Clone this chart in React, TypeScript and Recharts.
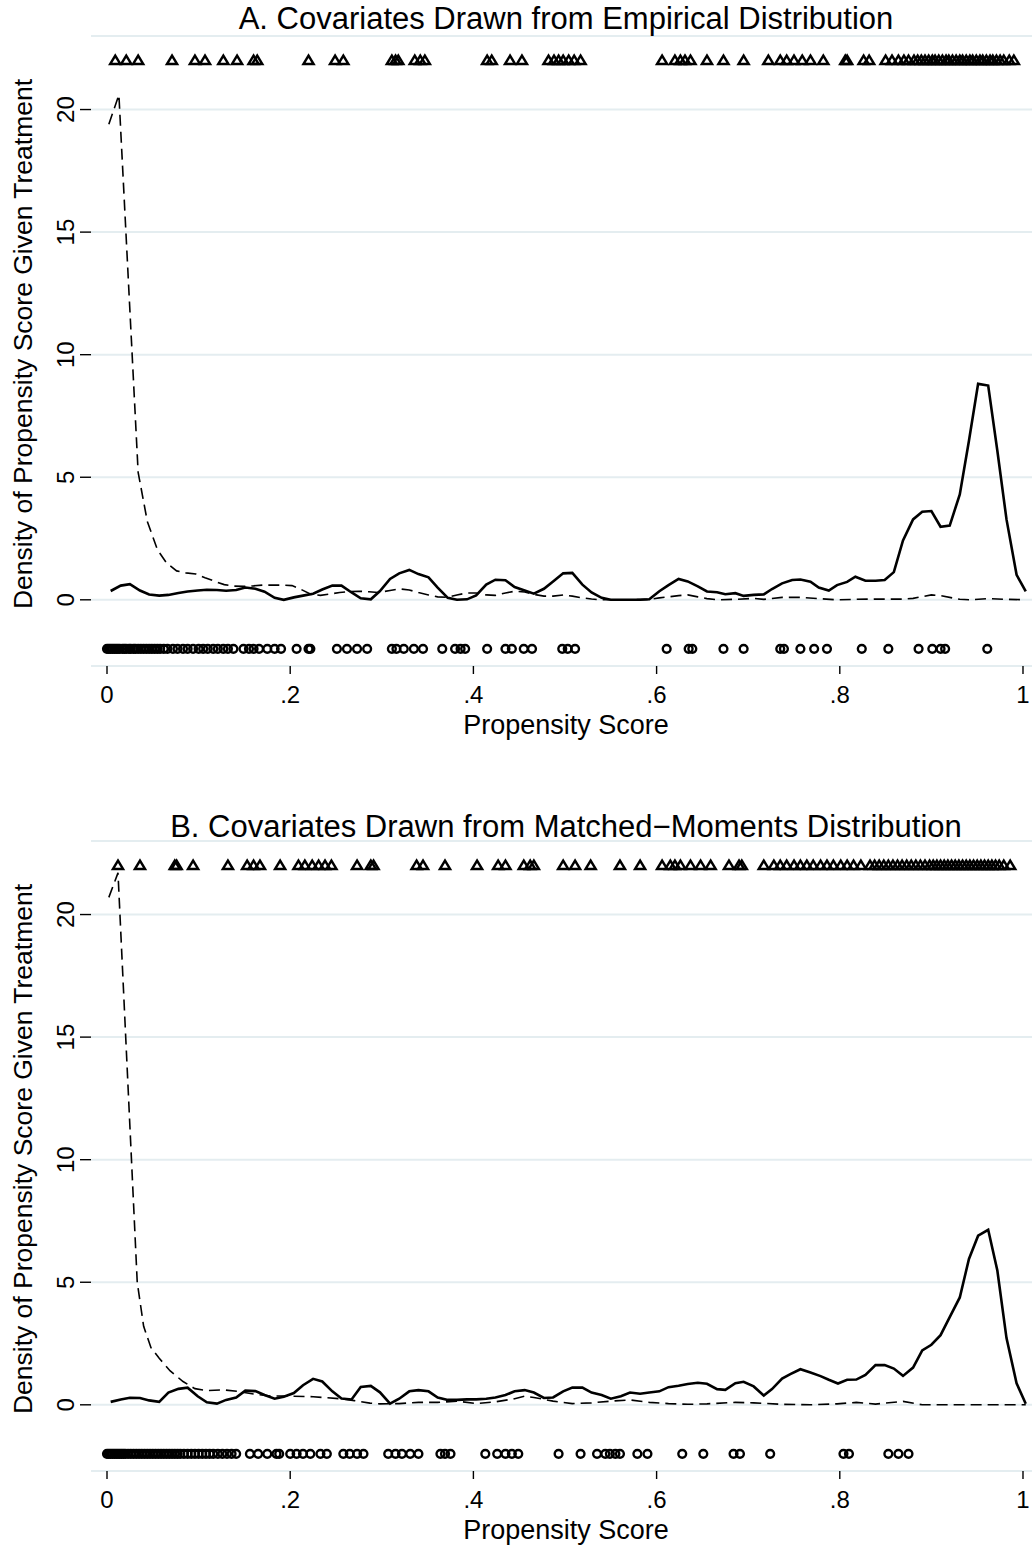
import React from 'react';
import { ComposedChart, Line, Scatter, XAxis, YAxis, CartesianGrid } from 'recharts';

const FONT = '"Liberation Sans", Arial, Helvetica, sans-serif';

const xTicks = [0, 0.2, 0.4, 0.6, 0.8, 1];
const yTicks = [0, 5, 10, 15, 20];
const RUG_TOP = 22;
const RUG_BOTTOM = -2;

// Panel A: kernel densities (x, density)
const treatedA: [number, number][] = [
  [0.004, 0.36], [0.015, 0.58], [0.025, 0.64], [0.036, 0.38], [0.046, 0.22], [0.057, 0.17],
  [0.067, 0.2], [0.078, 0.28], [0.088, 0.34], [0.099, 0.38], [0.109, 0.41], [0.12, 0.4],
  [0.13, 0.37], [0.141, 0.4], [0.151, 0.5], [0.162, 0.45], [0.172, 0.33], [0.183, 0.08],
  [0.193, 0.0], [0.204, 0.1], [0.214, 0.17], [0.225, 0.25], [0.235, 0.42], [0.246, 0.58],
  [0.256, 0.58], [0.267, 0.3], [0.277, 0.06], [0.288, 0.02], [0.298, 0.36], [0.309, 0.85],
  [0.319, 1.08], [0.33, 1.22], [0.34, 1.05], [0.351, 0.92], [0.361, 0.5], [0.372, 0.08],
  [0.382, 0.0], [0.393, 0.02], [0.403, 0.18], [0.414, 0.62], [0.424, 0.82], [0.435, 0.8],
  [0.445, 0.52], [0.456, 0.38], [0.466, 0.25], [0.477, 0.45], [0.487, 0.75], [0.498, 1.08],
  [0.508, 1.1], [0.519, 0.62], [0.529, 0.3], [0.54, 0.08], [0.55, 0.0], [0.561, 0.0],
  [0.571, 0.0], [0.582, 0.0], [0.592, 0.02], [0.603, 0.35], [0.613, 0.6], [0.624, 0.85],
  [0.634, 0.75], [0.645, 0.55], [0.655, 0.34], [0.666, 0.31], [0.675, 0.23], [0.686, 0.27],
  [0.695, 0.16], [0.706, 0.2], [0.717, 0.22], [0.726, 0.44], [0.737, 0.67], [0.748, 0.81],
  [0.757, 0.83], [0.768, 0.74], [0.777, 0.5], [0.788, 0.38], [0.797, 0.6], [0.808, 0.73],
  [0.817, 0.94], [0.828, 0.78], [0.839, 0.78], [0.849, 0.81], [0.859, 1.13], [0.869, 2.42],
  [0.88, 3.28], [0.89, 3.59], [0.9, 3.62], [0.91, 2.98], [0.92, 3.03], [0.931, 4.3],
  [0.941, 6.49], [0.951, 8.81], [0.962, 8.74], [0.972, 6.08], [0.982, 3.28], [0.993, 1.02],
  [1.003, 0.34],
];

const controlA: [number, number][] = [
  [0.002, 19.4], [0.013, 20.6], [0.034, 5.2], [0.044, 3.2], [0.055, 2.05], [0.065, 1.5],
  [0.076, 1.18], [0.086, 1.1], [0.097, 1.05], [0.107, 0.9], [0.118, 0.75], [0.128, 0.62],
  [0.139, 0.56], [0.149, 0.55], [0.16, 0.57], [0.17, 0.6], [0.181, 0.6], [0.191, 0.6],
  [0.202, 0.58], [0.212, 0.42], [0.223, 0.22], [0.233, 0.18], [0.244, 0.24], [0.254, 0.3],
  [0.265, 0.33], [0.275, 0.35], [0.286, 0.33], [0.296, 0.3], [0.309, 0.38], [0.319, 0.45],
  [0.33, 0.4], [0.34, 0.3], [0.351, 0.2], [0.361, 0.12], [0.372, 0.1], [0.382, 0.2],
  [0.393, 0.28], [0.403, 0.28], [0.414, 0.2], [0.424, 0.18], [0.435, 0.28], [0.445, 0.35],
  [0.456, 0.32], [0.466, 0.22], [0.477, 0.15], [0.487, 0.15], [0.498, 0.2], [0.508, 0.15],
  [0.519, 0.08], [0.529, 0.03], [0.54, 0.0], [0.55, 0.0], [0.571, 0.0], [0.592, 0.02],
  [0.603, 0.08], [0.613, 0.12], [0.624, 0.17], [0.634, 0.2], [0.645, 0.12], [0.655, 0.05],
  [0.666, 0.0], [0.686, 0.02], [0.706, 0.06], [0.717, 0.02], [0.737, 0.1], [0.757, 0.1],
  [0.777, 0.05], [0.797, 0.0], [0.817, 0.02], [0.839, 0.03], [0.869, 0.03], [0.88, 0.06],
  [0.9, 0.2], [0.91, 0.17], [0.931, 0.02], [0.941, 0.0], [0.962, 0.05], [0.982, 0.02],
  [1.003, 0.0],
];

const treatedRugA = [
  0.009, 0.021, 0.034, 0.071, 0.096, 0.107, 0.127, 0.142, 0.16, 0.164, 0.22, 0.249, 0.258,
  0.311, 0.315, 0.318, 0.336, 0.342, 0.347, 0.415, 0.42, 0.44, 0.453, 0.482, 0.488, 0.493,
  0.498, 0.504, 0.51, 0.517, 0.606, 0.62, 0.626, 0.631, 0.637, 0.655, 0.673, 0.695, 0.722,
  0.735, 0.742, 0.75, 0.759, 0.768, 0.782, 0.806, 0.808, 0.826, 0.832, 0.85, 0.857, 0.864,
  0.87, 0.875, 0.881, 0.885, 0.889, 0.893, 0.897, 0.901, 0.904, 0.908, 0.912, 0.916, 0.919,
  0.923, 0.927, 0.931, 0.934, 0.938, 0.942, 0.945, 0.949, 0.953, 0.956, 0.96, 0.964, 0.967,
  0.971, 0.975, 0.979, 0.985, 0.99,
];

const controlRugA = [
  0.0, 0.002, 0.004, 0.006, 0.008, 0.01, 0.012, 0.014, 0.017, 0.019, 0.021, 0.024, 0.026,
  0.029, 0.031, 0.034, 0.037, 0.04, 0.043, 0.046, 0.049, 0.052, 0.055, 0.058, 0.062, 0.066,
  0.072, 0.077, 0.083, 0.088, 0.094, 0.1, 0.105, 0.11, 0.116, 0.121, 0.127, 0.132, 0.138,
  0.149, 0.155, 0.16, 0.166, 0.175, 0.183, 0.19, 0.207, 0.22, 0.222, 0.251, 0.262, 0.273,
  0.284, 0.311, 0.316, 0.324, 0.335, 0.345, 0.366, 0.38, 0.386, 0.391, 0.415, 0.435, 0.442,
  0.455, 0.464, 0.497, 0.503, 0.511, 0.611, 0.635, 0.639, 0.673, 0.695, 0.735, 0.739, 0.757,
  0.772, 0.786, 0.824, 0.853, 0.886, 0.901, 0.91, 0.915, 0.961,
];

// Panel B
const treatedB: [number, number][] = [
  [0.004, 0.12], [0.015, 0.22], [0.025, 0.29], [0.036, 0.28], [0.046, 0.18], [0.057, 0.12],
  [0.067, 0.5], [0.078, 0.65], [0.088, 0.7], [0.099, 0.35], [0.109, 0.1], [0.12, 0.05],
  [0.13, 0.2], [0.141, 0.3], [0.151, 0.58], [0.162, 0.56], [0.172, 0.4], [0.183, 0.25],
  [0.193, 0.33], [0.204, 0.48], [0.214, 0.8], [0.225, 1.06], [0.235, 0.95], [0.246, 0.55],
  [0.256, 0.26], [0.267, 0.22], [0.277, 0.73], [0.288, 0.77], [0.298, 0.51], [0.309, 0.05],
  [0.319, 0.25], [0.33, 0.55], [0.34, 0.6], [0.351, 0.55], [0.361, 0.3], [0.372, 0.2],
  [0.382, 0.2], [0.393, 0.22], [0.403, 0.22], [0.414, 0.25], [0.424, 0.3], [0.435, 0.4],
  [0.445, 0.55], [0.456, 0.6], [0.466, 0.5], [0.477, 0.28], [0.487, 0.3], [0.498, 0.55],
  [0.508, 0.7], [0.519, 0.7], [0.529, 0.5], [0.54, 0.4], [0.55, 0.25], [0.561, 0.35],
  [0.571, 0.5], [0.582, 0.45], [0.592, 0.5], [0.603, 0.55], [0.613, 0.72], [0.624, 0.78],
  [0.634, 0.85], [0.645, 0.9], [0.655, 0.86], [0.666, 0.64], [0.675, 0.61], [0.686, 0.88],
  [0.695, 0.94], [0.706, 0.75], [0.717, 0.38], [0.726, 0.64], [0.737, 1.07], [0.746, 1.25],
  [0.757, 1.45], [0.768, 1.32], [0.779, 1.17], [0.788, 1.02], [0.798, 0.87], [0.808, 1.02],
  [0.818, 1.03], [0.828, 1.22], [0.839, 1.62], [0.849, 1.62], [0.859, 1.48], [0.869, 1.18],
  [0.88, 1.52], [0.89, 2.22], [0.9, 2.45], [0.91, 2.84], [0.92, 3.58], [0.931, 4.38],
  [0.941, 5.95], [0.951, 6.9], [0.962, 7.14], [0.972, 5.48], [0.982, 2.72], [0.993, 0.88],
  [1.003, 0.04],
];

const controlB: [number, number][] = [
  [0.002, 20.7], [0.012, 21.7], [0.033, 5.0], [0.04, 3.2], [0.048, 2.33], [0.057, 1.9],
  [0.069, 1.38], [0.083, 0.95], [0.096, 0.66], [0.109, 0.58], [0.127, 0.61], [0.142, 0.55],
  [0.16, 0.44], [0.178, 0.36], [0.196, 0.36], [0.225, 0.33], [0.254, 0.25], [0.27, 0.17],
  [0.287, 0.07], [0.298, 0.04], [0.319, 0.05], [0.34, 0.1], [0.361, 0.1], [0.382, 0.15],
  [0.403, 0.05], [0.424, 0.12], [0.445, 0.25], [0.456, 0.35], [0.466, 0.3], [0.487, 0.15],
  [0.508, 0.05], [0.529, 0.08], [0.55, 0.15], [0.571, 0.2], [0.592, 0.1], [0.613, 0.05],
  [0.634, 0.02], [0.655, 0.04], [0.686, 0.1], [0.706, 0.08], [0.737, 0.02], [0.768, 0.0],
  [0.797, 0.04], [0.818, 0.1], [0.839, 0.03], [0.869, 0.14], [0.89, 0.0], [0.931, 0.0],
  [1.003, 0.0],
];

const treatedRugB = [
  0.012, 0.036, 0.074, 0.076, 0.094, 0.132, 0.153, 0.16, 0.167, 0.189, 0.209, 0.216, 0.224,
  0.231, 0.238, 0.245, 0.273, 0.288, 0.291, 0.338, 0.345, 0.369, 0.404, 0.427, 0.435, 0.455,
  0.462, 0.466, 0.498, 0.511, 0.528, 0.56, 0.582, 0.606, 0.615, 0.62, 0.626, 0.637, 0.648,
  0.659, 0.679, 0.69, 0.693, 0.717, 0.728, 0.735, 0.742, 0.75, 0.757, 0.764, 0.771, 0.779,
  0.786, 0.793, 0.801, 0.808, 0.815, 0.823, 0.833, 0.838, 0.843, 0.848, 0.853, 0.858, 0.863,
  0.868, 0.873, 0.878, 0.883, 0.888, 0.893, 0.898, 0.902, 0.906, 0.91, 0.914, 0.918, 0.922,
  0.926, 0.93, 0.934, 0.938, 0.942, 0.946, 0.95, 0.954, 0.958, 0.962, 0.966, 0.97, 0.974,
  0.979, 0.986,
];

const controlRugB = [
  0.0, 0.002, 0.004, 0.006, 0.008, 0.01, 0.012, 0.014, 0.016, 0.018, 0.02, 0.023, 0.026,
  0.029, 0.032, 0.035, 0.038, 0.041, 0.044, 0.047, 0.05, 0.053, 0.056, 0.059, 0.062, 0.065,
  0.068, 0.071, 0.074, 0.077, 0.08, 0.084, 0.088, 0.092, 0.096, 0.1, 0.104, 0.108, 0.112,
  0.116, 0.121, 0.126, 0.131, 0.136, 0.141, 0.156, 0.165, 0.175, 0.185, 0.188, 0.2, 0.207,
  0.214, 0.222, 0.233, 0.24, 0.258, 0.265, 0.273, 0.28, 0.307, 0.315, 0.322, 0.331, 0.34,
  0.364, 0.369, 0.375, 0.413, 0.426, 0.435, 0.442, 0.449, 0.493, 0.517, 0.535, 0.544, 0.549,
  0.555, 0.56, 0.579, 0.59, 0.628, 0.651, 0.684, 0.691, 0.724, 0.804, 0.81, 0.853, 0.864,
  0.875,
];

const W = 1032;
const H = 742;

const fmtX = (v: number) => (v === 0 ? '0' : v === 1 ? '1' : String(v).replace(/^0/, ''));

const XTick = (props: any) => {
  const { x, y, payload } = props;
  return (
    <g>
      <line x1={x} x2={x} y1={y} y2={y + 8} stroke="#000" strokeWidth={1.4} />
      <text x={x} y={y + 37} textAnchor="middle" fontSize={24} fontFamily={FONT} fill="#000">
        {fmtX(payload.value)}
      </text>
    </g>
  );
};

const YTick = (props: any) => {
  const { x, y, payload } = props;
  return (
    <g>
      <line x1={x - 11} x2={x} y1={y} y2={y} stroke="#000" strokeWidth={1.4} />
      <text
        x={x - 17}
        y={y}
        transform={`rotate(-90, ${x - 17}, ${y})`}
        textAnchor="middle"
        fontSize={24}
        fontFamily={FONT}
        fill="#000"
      >
        {payload.value}
      </text>
    </g>
  );
};

const Triangle = (props: any) => {
  const { cx, cy } = props;
  if (cx == null || cy == null) return <g />;
  const d = `M${cx},${cy - 4.8} L${cx + 5},${cy + 3.4} L${cx - 5},${cy + 3.4} Z`;
  return <path d={d} fill="none" stroke="#000" strokeWidth={2.5} strokeLinejoin="miter" />;
};

const Ring = (props: any) => {
  const { cx, cy } = props;
  if (cx == null || cy == null) return <g />;
  return <circle cx={cx} cy={cy} r={3.9} fill="none" stroke="#000" strokeWidth={2.4} />;
};

interface PanelProps {
  top: number;
  title: string;
  titleY: number;
  treated: [number, number][];
  control: [number, number][];
  treatedRug: number[];
  controlRug: number[];
}

function Panel({ top, title, titleY, treated, control, treatedRug, controlRug }: PanelProps) {
  const tData = treated.map(([x, y]) => ({ x, y }));
  const cData = control.map(([x, y]) => ({ x, y }));
  const tRug = treatedRug.map((x) => ({ x, y: RUG_TOP }));
  const cRug = controlRug.map((x) => ({ x, y: RUG_BOTTOM }));

  return (
    <div style={{ position: 'absolute', left: 0, top, width: W, height: H }}>
      <ComposedChart width={W} height={H} margin={{ top: 36, right: 0, bottom: 0, left: 0 }}>
        <CartesianGrid horizontal vertical={false} stroke="#e4edf0" strokeWidth={2} />
        <XAxis
          type="number"
          dataKey="x"
          domain={[-0.01747, 1.00983]}
          ticks={xTicks}
          interval={0}
          allowDataOverflow
          axisLine={false}
          tickLine={false}
          tickSize={0}
          tickMargin={0}
          height={76}
          tick={XTick}
        />
        <YAxis
          type="number"
          domain={[-2.7, 23]}
          ticks={yTicks}
          interval={0}
          allowDataOverflow
          axisLine={false}
          tickLine={false}
          tickSize={0}
          tickMargin={0}
          width={91}
          tick={YTick}
        />
        <Line
          data={cData}
          dataKey="y"
          type="linear"
          stroke="#000"
          strokeWidth={1.6}
          strokeDasharray="11 6"
          dot={false}
          activeDot={false}
          isAnimationActive={false}
        />
        <Line
          data={tData}
          dataKey="y"
          type="linear"
          stroke="#000"
          strokeWidth={2.6}
          dot={false}
          activeDot={false}
          isAnimationActive={false}
        />
        <Scatter data={tRug} dataKey="y" shape={Triangle} isAnimationActive={false} />
        <Scatter data={cRug} dataKey="y" shape={Ring} isAnimationActive={false} />
      </ComposedChart>
      <svg
        width={W}
        height={H}
        style={{ position: 'absolute', left: 0, top: 0, pointerEvents: 'none', overflow: 'visible' }}
      >
        <text x={566} y={titleY} textAnchor="middle" fontSize={31} fontFamily={FONT} fill="#000">
          {title}
        </text>
        <text x={566} y={734} textAnchor="middle" fontSize={27} fontFamily={FONT} fill="#000">
          Propensity Score
        </text>
        <text
          x={32}
          y={344}
          transform="rotate(-90, 32, 344)"
          textAnchor="middle"
          fontSize={26.5}
          fontFamily={FONT}
          fill="#000"
        >
          Density of Propensity Score Given Treatment
        </text>
      </svg>
    </div>
  );
}

export default function App() {
  return (
    <div
      style={{
        position: 'absolute',
        left: 0,
        top: 0,
        width: W,
        height: 1547,
        background: '#fff',
        overflow: 'hidden',
      }}
    >
      <Panel
        top={0}
        title="A. Covariates Drawn from Empirical Distribution"
        titleY={29}
        treated={treatedA}
        control={controlA}
        treatedRug={treatedRugA}
        controlRug={controlRugA}
      />
      <Panel
        top={805}
        title="B. Covariates Drawn from Matched−Moments Distribution"
        titleY={32}
        treated={treatedB}
        control={controlB}
        treatedRug={treatedRugB}
        controlRug={controlRugB}
      />
    </div>
  );
}
